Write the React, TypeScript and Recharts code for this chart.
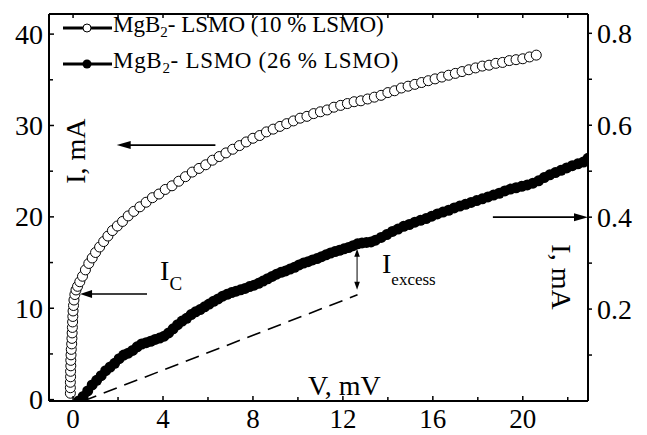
import {
  ScatterChart,
  Scatter,
  XAxis,
  YAxis,
  ReferenceLine,
  ReferenceDot,
  Legend,
} from "recharts";

const FONT = '"Liberation Serif", "Times New Roman", serif';

// MgB2 - LSMO (10 % LSMO), left axis, I in mA
const v10 = [
  -0.12, -0.12, -0.12, -0.11, -0.11, -0.1, -0.1, -0.09, -0.08, -0.06, -0.05, -0.04, -0.03, -0.02, -0.01, 0, 0.02,
  0.04, 0.08, 0.13, 0.2, 0.3, 0.42, 0.55, 0.7, 0.85, 1.0, 1.18, 1.36, 1.55, 1.75, 1.97, 2.2, 2.45, 2.7, 2.97, 3.25,
  3.53, 3.82, 4.1, 4.4, 4.7, 5.0, 5.3, 5.6, 5.9, 6.2, 6.5, 6.8, 7.1, 7.4, 7.7, 8.0, 8.3, 8.6, 8.9, 9.2, 9.5, 9.8,
  10.1, 10.4, 10.7, 11.0, 11.3, 11.6, 11.9, 12.2, 12.5, 12.8, 13.1, 13.4, 13.7, 14.0, 14.3, 14.6, 14.9, 15.2, 15.5,
  15.8, 16.1, 16.4, 16.7, 17.0, 17.3, 17.6, 17.9, 18.2, 18.5, 18.8, 19.1, 19.4, 19.7, 20.0, 20.3, 20.6,
];
const i10 = [
  0.7, 1.3, 1.9, 2.5, 3.1, 3.7, 4.3, 4.9, 5.5, 6.1, 6.7, 7.3, 7.9, 8.5, 9.1, 9.7, 10.3, 10.9, 11.5, 12.0, 12.4, 12.9,
  13.5, 14.2, 14.9, 15.5, 16.1, 16.7, 17.3, 17.9, 18.5, 19.0, 19.5, 20.1, 20.6, 21.1, 21.6, 22.1, 22.5, 23.0, 23.4,
  23.9, 24.4, 24.9, 25.3, 25.7, 26.2, 26.6, 27.0, 27.4, 27.8, 28.2, 28.6, 28.9, 29.3, 29.6, 29.9, 30.2, 30.5, 30.8,
  31.0, 31.3, 31.5, 31.7, 32.0, 32.2, 32.4, 32.6, 32.7, 32.9, 33.1, 33.3, 33.6, 33.8, 34.1, 34.3, 34.5, 34.7, 34.9,
  35.1, 35.3, 35.5, 35.7, 35.9, 36.1, 36.3, 36.5, 36.6, 36.8, 36.9, 37.1, 37.2, 37.3, 37.5, 37.7,
];

// MgB2 - LSMO (26 % LSMO), right axis, I in mA
const v26 = [
  0.25, 0.45, 0.65, 0.85, 1.05, 1.25, 1.45, 1.65, 1.85, 2.05, 2.25, 2.45, 2.65, 2.85, 3.05, 3.25, 3.45, 3.65, 3.85,
  4.05, 4.25, 4.45, 4.65, 4.85, 5.05, 5.25, 5.45, 5.65, 5.85, 6.05, 6.25, 6.45, 6.65, 6.85, 7.05, 7.25, 7.45, 7.65,
  7.85, 8.05, 8.25, 8.45, 8.65, 8.85, 9.05, 9.25, 9.45, 9.65, 9.85, 10.05, 10.25, 10.45, 10.65, 10.85, 11.05, 11.25,
  11.45, 11.65, 11.85, 12.05, 12.25, 12.45, 12.65, 12.85, 13.05, 13.25, 13.45, 13.7, 13.95, 14.2, 14.45, 14.7, 14.95,
  15.2, 15.45, 15.7, 15.95, 16.2, 16.45, 16.7, 16.95, 17.2, 17.45, 17.7, 17.95, 18.2, 18.45, 18.7, 18.95, 19.2, 19.45,
  19.7, 19.95, 20.2, 20.45, 20.7, 20.95, 21.2, 21.45, 21.7, 21.95, 22.2, 22.45, 22.7, 22.9,
];
const i26 = [
  0.0, 0.01, 0.022, 0.035, 0.045, 0.055, 0.066, 0.074, 0.082, 0.092, 0.1, 0.104, 0.11, 0.118, 0.124, 0.127, 0.13,
  0.134, 0.137, 0.141, 0.148, 0.157, 0.166, 0.174, 0.18, 0.188, 0.194, 0.199, 0.205, 0.211, 0.217, 0.222, 0.228,
  0.232, 0.236, 0.239, 0.242, 0.245, 0.249, 0.252, 0.256, 0.261, 0.266, 0.271, 0.276, 0.28, 0.283, 0.287, 0.291,
  0.296, 0.3, 0.303, 0.307, 0.31, 0.314, 0.318, 0.322, 0.325, 0.328, 0.331, 0.334, 0.338, 0.342, 0.344, 0.345, 0.346,
  0.35, 0.356, 0.362, 0.369, 0.374, 0.38, 0.384, 0.389, 0.393, 0.397, 0.402, 0.407, 0.411, 0.415, 0.42, 0.424, 0.428,
  0.432, 0.436, 0.44, 0.444, 0.448, 0.452, 0.457, 0.461, 0.464, 0.467, 0.47, 0.474, 0.479, 0.486, 0.492, 0.497,
  0.502, 0.507, 0.512, 0.516, 0.52, 0.528,
];

const xTicks = [0, 2, 4, 6, 8, 10, 12, 14, 16, 18, 20, 22];
const xLabels = [0, 4, 8, 12, 16, 20];
const leftTicks = [0, 5, 10, 15, 20, 25, 30, 35, 40];
const leftLabels = [0, 10, 20, 30, 40];
const rightTicks = [0.1, 0.2, 0.3, 0.4, 0.5, 0.6, 0.7, 0.8];
const rightLabels = [0.2, 0.4, 0.6, 0.8];

const data10 = v10.map((v, k) => ({ v, i: i10[k] }));
const data26 = v26.map((v, k) => ({ v, i: i26[k] }));

const tickText = { fontSize: 28, fill: "#000", style: { fontFamily: FONT } };

const BottomTick = ({ x, y, payload }: any) => {
  const major = xLabels.includes(payload.value);
  return (
    <g>
      <line x1={x} y1={y} x2={x} y2={y - (major ? 5 : 4)} stroke="#000" strokeWidth={1.5} />
      {major && (
        <text x={x} y={y + 27} textAnchor="middle" {...tickText} fontSize={27}>
          {payload.value}
        </text>
      )}
    </g>
  );
};

const TopTick = ({ x, y }: any) => (
  <line x1={x} y1={y} x2={x} y2={y + 4} stroke="#000" strokeWidth={1.5} />
);

const LeftTick = ({ x, y, payload }: any) => {
  const major = leftLabels.includes(payload.value);
  return (
    <g>
      <line x1={x} y1={y} x2={x + (major ? 5 : 4)} y2={y} stroke="#000" strokeWidth={1.5} />
      {major && (
        <text x={x - 6} y={y} dy="0.34em" textAnchor="end" {...tickText}>
          {payload.value}
        </text>
      )}
    </g>
  );
};

const RightTick = ({ x, y, payload }: any) => {
  const major = rightLabels.includes(payload.value);
  return (
    <g>
      <line x1={x} y1={y} x2={x + 4} y2={y} stroke="#000" strokeWidth={1.5} />
      {major && (
        <text x={x + 9} y={y} dy="0.34em" textAnchor="start" {...tickText}>
          {payload.value.toFixed(1)}
        </text>
      )}
    </g>
  );
};

const headPoints = (x: number, y: number, dx: number, dy: number, len: number, half: number) => {
  const d = Math.hypot(dx, dy) || 1;
  const ux = dx / d;
  const uy = dy / d;
  const bx = x - ux * len;
  const by = y - uy * len;
  return `${x},${y} ${bx - uy * half},${by + ux * half} ${bx + uy * half},${by - ux * half}`;
};

const arrow = (both: boolean, width: number, len: number, half: number) => (p: any) => {
  const { x1, y1, x2, y2 } = p;
  const dx = x2 - x1;
  const dy = y2 - y1;
  const d = Math.hypot(dx, dy) || 1;
  const sx = both ? x1 + (dx / d) * len * 0.8 : x1;
  const sy = both ? y1 + (dy / d) * len * 0.8 : y1;
  const ex = x2 - (dx / d) * len * 0.8;
  const ey = y2 - (dy / d) * len * 0.8;
  return (
    <g>
      <line x1={sx} y1={sy} x2={ex} y2={ey} stroke="#000" strokeWidth={width} />
      <polygon points={headPoints(x2, y2, dx, dy, len, half)} fill="#000" />
      {both && <polygon points={headPoints(x1, y1, -dx, -dy, len, half)} fill="#000" />}
    </g>
  );
};

const openDot = (p: any) => <circle cx={p.cx} cy={p.cy} r={5} fill="#fff" stroke="#000" strokeWidth={1} />;
const fullDot = (p: any) => <circle cx={p.cx} cy={p.cy} r={5.5} fill="#000" />;

const legendRows = [
  { pct: "10", open: true, spacing: 0 },
  { pct: "26", open: false, spacing: 0.7 },
];

const LegendBox = () => (
  <div style={{ fontFamily: FONT, fontSize: 23, color: "#000", lineHeight: "36px" }}>
    {legendRows.map((r) => (
      <div key={r.pct} style={{ display: "flex", alignItems: "center", height: 36, whiteSpace: "nowrap" }}>
        <svg width={51} height={14} style={{ flex: "none" }}>
          <line x1={1} y1={7} x2={50} y2={7} stroke="#000" strokeWidth={3} />
          {r.open ? (
            <circle cx={25} cy={7} r={4} fill="#fff" stroke="#000" strokeWidth={1} />
          ) : (
            <circle cx={25} cy={7} r={4.5} fill="#000" />
          )}
        </svg>
        <span style={{ letterSpacing: r.spacing }}>
          MgB<span style={{ fontSize: 15, verticalAlign: -5 }}>2</span>- LSMO ({r.pct} % LSMO)
        </span>
      </div>
    ))}
  </div>
);

const txt = { fill: "#000", style: { fontFamily: FONT } };
const frame = { stroke: "#000", strokeWidth: 2 };

export default function App() {
  return (
    <div
      style={{
        position: "absolute",
        left: 0,
        top: 0,
        width: 647,
        height: 435,
        background: "#fff",
        fontFamily: FONT,
      }}
    >
      <ScatterChart width={647} height={435} margin={{ top: 13, right: 58, bottom: 33, left: 48 }}>
        <XAxis
          xAxisId="b"
          type="number"
          dataKey="v"
          domain={[-1.07, 22.9]}
          allowDataOverflow
          ticks={xTicks}
          interval={0}
          height={1}
          tickSize={0}
          tickMargin={0}
          tickLine={false}
          axisLine={frame}
          tick={BottomTick}
        />
        <XAxis
          xAxisId="t"
          orientation="top"
          type="number"
          dataKey="v"
          domain={[-1.07, 22.9]}
          allowDataOverflow
          ticks={xTicks}
          interval={0}
          height={1}
          tickSize={0}
          tickMargin={0}
          tickLine={false}
          axisLine={frame}
          tick={TopTick}
        />
        <YAxis
          yAxisId="L"
          type="number"
          dataKey="i"
          domain={[-0.15, 42.2]}
          allowDataOverflow
          ticks={leftTicks}
          interval={0}
          width={1}
          tickSize={0}
          tickMargin={0}
          tickLine={false}
          axisLine={frame}
          tick={LeftTick}
        />
        <YAxis
          yAxisId="R"
          orientation="right"
          type="number"
          dataKey="i"
          domain={[0, 0.842]}
          allowDataOverflow
          ticks={rightTicks}
          interval={0}
          width={1}
          tickSize={0}
          tickMargin={0}
          tickLine={false}
          axisLine={frame}
          tick={RightTick}
        />
        <Legend
          content={<LegendBox />}
          layout="horizontal"
          verticalAlign="middle"
          wrapperStyle={{ top: 10, left: 62, width: 400 }}
        />

        <ReferenceLine
          xAxisId="b"
          yAxisId="R"
          ifOverflow="visible"
          segment={[{ x: 0.45, y: 0 }, { x: 12.65, y: 0.231 }]}
          stroke="#000"
          strokeWidth={1.6}
          strokeDasharray="14 8"
        />

        <Scatter xAxisId="b" yAxisId="R" data={data26} shape={fullDot} isAnimationActive={false} />
        <Scatter xAxisId="b" yAxisId="L" data={data10} shape={openDot} isAnimationActive={false} />

        <ReferenceLine
          xAxisId="b"
          yAxisId="L"
          ifOverflow="visible"
          segment={[{ x: 6.33, y: 27.86 }, { x: 1.94, y: 27.86 }]}
          shape={arrow(false, 1.7, 14, 4)}
        />
        <ReferenceLine
          xAxisId="b"
          yAxisId="R"
          ifOverflow="visible"
          segment={[{ x: 18.67, y: 0.4 }, { x: 22.9, y: 0.4 }]}
          shape={arrow(false, 1.7, 14, 4)}
        />
        <ReferenceLine
          xAxisId="b"
          yAxisId="L"
          ifOverflow="visible"
          segment={[{ x: 3.29, y: 11.56 }, { x: 0.31, y: 11.56 }]}
          shape={arrow(false, 1.7, 12, 4)}
        />
        <ReferenceLine
          xAxisId="b"
          yAxisId="R"
          ifOverflow="visible"
          segment={[{ x: 12.63, y: 0.242 }, { x: 12.63, y: 0.331 }]}
          shape={arrow(true, 1, 8, 2.8)}
        />

        <ReferenceDot
          xAxisId="b"
          yAxisId="L"
          x={0.09}
          y={27.2}
          r={0}
          ifOverflow="visible"
          shape={(p: any) => (
            <text
              x={p.cx}
              y={p.cy}
              fontSize={28}
              textAnchor="middle"
              dominantBaseline="central"
              transform={`rotate(-90 ${p.cx} ${p.cy})`}
              {...txt}
            >
              I, mA
            </text>
          )}
        />
        <ReferenceDot
          xAxisId="b"
          yAxisId="L"
          x={21.74}
          y={13.42}
          r={0}
          ifOverflow="visible"
          shape={(p: any) => (
            <text
              x={p.cx}
              y={p.cy}
              fontSize={28}
              textAnchor="middle"
              dominantBaseline="central"
              transform={`rotate(90 ${p.cx} ${p.cy})`}
              {...txt}
            >
              I, mA
            </text>
          )}
        />
        <ReferenceDot
          xAxisId="b"
          yAxisId="L"
          x={3.87}
          y={13.09}
          r={0}
          ifOverflow="visible"
          shape={(p: any) => (
            <text x={p.cx} y={p.cy} fontSize={28} {...txt}>
              I
              <tspan fontSize={19} dy={10}>
                C
              </tspan>
            </text>
          )}
        />
        <ReferenceDot
          xAxisId="b"
          yAxisId="L"
          x={13.74}
          y={13.86}
          r={0}
          ifOverflow="visible"
          shape={(p: any) => (
            <text x={p.cx} y={p.cy} fontSize={28} {...txt}>
              I
              <tspan fontSize={17} dy={12}>
                excess
              </tspan>
            </text>
          )}
        />
        <ReferenceDot
          xAxisId="b"
          yAxisId="L"
          x={10.45}
          y={0.5}
          r={0}
          ifOverflow="visible"
          shape={(p: any) => (
            <text x={p.cx} y={p.cy} fontSize={28} {...txt}>
              V, mV
            </text>
          )}
        />
      </ScatterChart>
    </div>
  );
}
